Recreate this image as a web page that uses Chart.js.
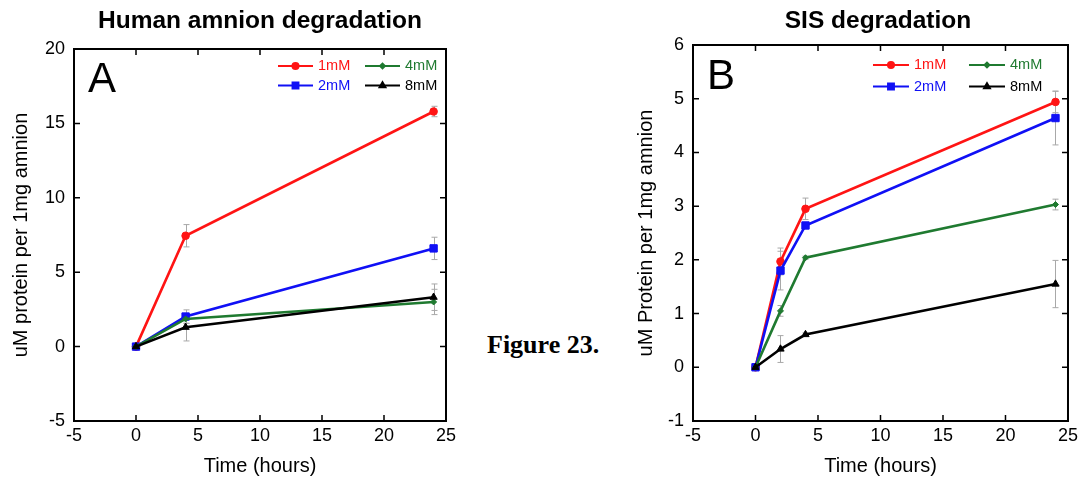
<!DOCTYPE html>
<html>
<head>
<meta charset="utf-8">
<script src="https://cdn.jsdelivr.net/npm/chart.js@4/dist/chart.umd.min.js"></script>
<style>
  body { margin: 0; background: #fff; width: 1082px; height: 481px; position: relative; overflow: hidden; font-family: "Liberation Sans", Arial, sans-serif; }
  canvas { position: absolute; top: 0; }
  #chartA { left: 0; }
  #chartB { left: 620px; }
  .title { position: absolute; top: 6px; font-weight: bold; font-size: 24.5px; line-height: 28px; transform: translateX(-50%); white-space: nowrap; }
  .panel { position: absolute; font-size: 42px; line-height: 1; }
  #fig { position: absolute; left: 487px; top: 330px; font-family: "Liberation Serif", "Times New Roman", serif; font-weight: bold; font-size: 26px; }
</style>
</head>
<body>
<canvas id="chartA" width="470" height="481"></canvas>
<canvas id="chartB" width="462" height="481"></canvas>
<div class="title" style="left:260px">Human amnion degradation</div>
<div class="title" style="left:878px">SIS degradation</div>
<div class="panel" style="left:88px; top:57px">A</div>
<div class="panel" style="left:707px; top:54px">B</div>
<div id="fig">Figure 23.</div>
<script>
// Данные: панель A (амнион)
const hoursA = [0, 4, 24];
const amnion1mM = [0, 7.45, 15.8];
const amnion1mMErr = [0, 0.75, 0.35];
const amnion2mM = [0, 2.02, 6.6];
const amnion2mMErr = [0, 0.45, 0.75];
const amnion4mM = [0, 1.86, 3.0];
const amnion4mMErr = [0, 0.3, 0.85];
const amnion8mM = [0, 1.3, 3.32];
const amnion8mMErr = [0, 0.92, 0.89];

// Данные: панель B (SIS)
const hoursB = [0, 2, 4, 24];
const sis1mM = [0, 1.97, 2.95, 4.94];
const sis1mMErr = [0, 0.25, 0.2, 0.2];
const sis2mM = [0, 1.8, 2.64, 4.64];
const sis2mMErr = [0, 0.36, 0.05, 0.5];
const sis4mM = [0, 1.05, 2.04, 3.03];
const sis4mMErr = [0, 0.1, 0.03, 0.1];
const sis8mM = [0, 0.34, 0.61, 1.55];
const sis8mMErr = [0, 0.25, 0.03, 0.44];

const seriesLabels = ['1mM', '2mM', '4mM', '8mM'];
const xTicks = [-5, 0, 5, 10, 15, 20, 25];
const yTicksA = [-5, 0, 5, 10, 15, 20];
const yTicksB = [-1, 0, 1, 2, 3, 4, 5, 6];

const styles = [
  { color: '#ff1414', pointStyle: 'circle', radius: 3.8 },
  { color: '#1010f5', pointStyle: 'rect', radius: 5.2 },
  { color: '#1f7a30', pointStyle: 'rectRot', radius: 3 },
  { color: '#000000', pointStyle: 'triangle', radius: 4.2 }
];

function makeDataset(i, xs, ys, errs) {
  const s = styles[i];
  return {
    label: seriesLabels[i],
    data: xs.map((x, k) => ({ x: x, y: ys[k] })),
    errors: errs,
    order: 4 - i, // последние серии поверх первых
    showLine: true,
    borderColor: s.color,
    backgroundColor: s.color,
    borderWidth: 2.6,
    pointStyle: s.pointStyle,
    pointRadius: s.radius,
    pointHoverRadius: s.radius,
    pointBorderWidth: 1
  };
}

// Планки погрешностей (под линиями)
const errorBars = {
  id: 'errorBars',
  beforeDatasetsDraw(chart) {
    const { ctx, scales: { x, y } } = chart;
    ctx.save();
    ctx.strokeStyle = '#a8a8a8';
    ctx.lineWidth = 1;
    chart.data.datasets.forEach(ds => {
      ds.data.forEach((p, k) => {
        const e = ds.errors[k];
        if (!e) return;
        const px = Math.round(x.getPixelForValue(p.x)) + 0.5;
        const top = y.getPixelForValue(p.y + e);
        const bot = y.getPixelForValue(p.y - e);
        ctx.beginPath();
        ctx.moveTo(px, top); ctx.lineTo(px, bot);
        ctx.moveTo(px - 3, top); ctx.lineTo(px + 3, top);
        ctx.moveTo(px - 3, bot); ctx.lineTo(px + 3, bot);
        ctx.stroke();
      });
    });
    ctx.restore();
  }
};

// Рамка и засечки внутрь по всем четырём сторонам
const frame = {
  id: 'frame',
  afterDraw(chart) {
    const { ctx, chartArea: a, scales: { x, y } } = chart;
    ctx.save();
    ctx.strokeStyle = '#000';
    ctx.lineWidth = 1.5;
    ctx.beginPath();
    x.ticks.forEach(t => {
      const px = x.getPixelForValue(t.value);
      ctx.moveTo(px, a.bottom); ctx.lineTo(px, a.bottom - 6);
      ctx.moveTo(px, a.top); ctx.lineTo(px, a.top + 6);
    });
    y.ticks.forEach(t => {
      const py = y.getPixelForValue(t.value);
      ctx.moveTo(a.left, py); ctx.lineTo(a.left + 6, py);
      ctx.moveTo(a.right, py); ctx.lineTo(a.right - 6, py);
    });
    ctx.stroke();
    ctx.lineWidth = 2;
    ctx.strokeRect(a.left, a.top, a.right - a.left, a.bottom - a.top);
    ctx.restore();
  }
};

// Легенда в две колонки внутри области графика
const miniLegend = {
  id: 'miniLegend',
  afterDraw(chart, args, opts) {
    const { ctx, chartArea: a } = chart;
    ctx.save();
    ctx.font = '14.5px "Liberation Sans", Arial, sans-serif';
    ctx.textBaseline = 'middle';
    chart.data.datasets.forEach((ds, i) => {
      const col = opts.cols[Math.floor(i / 2)];
      const row = opts.rows[i % 2];
      const yy = a.top + row;
      const x0 = a.right - col;
      ctx.strokeStyle = ds.borderColor;
      ctx.lineWidth = 2;
      ctx.beginPath();
      ctx.moveTo(x0, yy); ctx.lineTo(x0 + opts.len, yy);
      ctx.stroke();
      ctx.fillStyle = ds.backgroundColor;
      Chart.helpers.drawPoint(ctx, {
        pointStyle: ds.pointStyle, radius: ds.pointRadius * 0.8, rotation: 0, borderWidth: 1
      }, x0 + opts.len / 2, yy);
      ctx.fillStyle = ds.borderColor;
      ctx.fillText(ds.label, x0 + opts.len + 5, yy);
    });
    ctx.restore();
  }
};

function makeOptions(yMin, yMax, yTicks, yTitle, pad, titlePad, legendOpts) {
  const tickFont = { family: '"Liberation Sans", Arial, sans-serif', size: 18 };
  const titleFont = { family: '"Liberation Sans", Arial, sans-serif', size: 20 };
  return {
    responsive: false,
    animation: false,
    layout: { padding: pad },
    plugins: { legend: { display: false }, tooltip: { enabled: false }, miniLegend: legendOpts },
    scales: {
      x: {
        type: 'linear', min: -5, max: 25,
        afterBuildTicks: s => { s.ticks = xTicks.map(v => ({ value: v })); },
        afterFit: s => { s.height = 60; },
        grid: { display: false, drawTicks: false },
        border: { display: false },
        ticks: { color: '#000', font: tickFont, padding: 4, maxRotation: 0 },
        title: { display: true, text: 'Time (hours)', color: '#000', font: titleFont, padding: { top: 0, bottom: 3 } }
      },
      y: {
        type: 'linear', min: yMin, max: yMax,
        afterBuildTicks: s => { s.ticks = yTicks.map(v => ({ value: v })); },
        afterFit: s => { s.width = pad.yWidth; },
        grid: { display: false, drawTicks: false },
        border: { display: false },
        ticks: { color: '#000', font: tickFont, padding: 9 },
        title: { display: true, text: yTitle, color: '#000', font: titleFont, padding: { top: titlePad, bottom: 0 } }
      }
    }
  };
}

new Chart(document.getElementById('chartA'), {
  type: 'scatter',
  data: {
    datasets: [
      makeDataset(0, hoursA, amnion1mM, amnion1mMErr),
      makeDataset(1, hoursA, amnion2mM, amnion2mMErr),
      makeDataset(2, hoursA, amnion4mM, amnion4mMErr),
      makeDataset(3, hoursA, amnion8mM, amnion8mMErr)
    ]
  },
  options: makeOptions(-5, 20, yTicksA, 'uM protein per 1mg amnion',
    { top: 49, right: 24, bottom: 0, left: 0, yWidth: 74 }, 9,
    { cols: [168, 81], rows: [17, 36.5], len: 35 }),
  plugins: [errorBars, frame, miniLegend]
});

new Chart(document.getElementById('chartB'), {
  type: 'scatter',
  data: {
    datasets: [
      makeDataset(0, hoursB, sis1mM, sis1mMErr),
      makeDataset(1, hoursB, sis2mM, sis2mMErr),
      makeDataset(2, hoursB, sis4mM, sis4mMErr),
      makeDataset(3, hoursB, sis8mM, sis8mMErr)
    ]
  },
  options: makeOptions(-1, 6, yTicksB, 'uM Protein per 1mg amnion',
    { top: 45, right: 13, bottom: 0, left: 0, yWidth: 73 }, 14,
    { cols: [195, 99], rows: [20, 41.5], len: 36 }),
  plugins: [errorBars, frame, miniLegend]
});
</script>
</body>
</html>
